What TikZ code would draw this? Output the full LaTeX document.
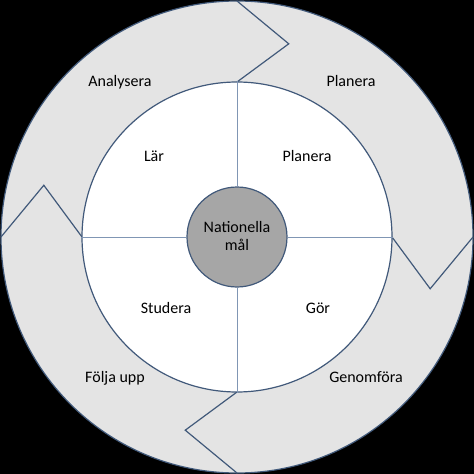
\documentclass[tikz,border=0pt]{standalone}
\usepackage{fontspec}
\setmainfont{Carlito}
\usetikzlibrary{positioning}
\usetikzlibrary{calc}

\definecolor{ringgray}{HTML}{E4E4E4}
\definecolor{edgeblue}{HTML}{41597A}
\definecolor{crossblue}{HTML}{8096B4}
\definecolor{goalgray}{HTML}{A6A6A6}

\begin{document}
\begin{tikzpicture}[x=1pt, y=1pt, every node/.style={font=\fontsize{16}{19}\selectfont, inner sep=0pt}]

        % Outer radius of the ring
        \def\rout{236}

        % Radius of the white circle
        \def\rin{155}

        % Radius of the chevron tips
        \def\rtip{200}

        % Black frame behind everything
        \fill[black] (-237,-237) rectangle (237,237);
        \useasboundingbox (-237,-237) rectangle (237,237);

        % Grey ring
        \fill[ringgray, draw=edgeblue, line width=1.2pt] (0,0) circle (\rout);

        % Chevrons cutting the ring into four parts
        \foreach \a in {90,0,-90,180} {
          \draw[edgeblue, line width=1.2pt, line join=miter]
            (\a:\rin) -- (\a-15:\rtip) -- (\a:\rout);
        }

        % White circle and the goal in the middle
        \node[circle, draw=edgeblue, fill=white, line width=1.2pt, minimum size=2*\rin pt] (inner) at (0,0) {};
        \node[circle, draw=edgeblue, fill=goalgray, line width=1.2pt, minimum size=100pt] (goal) at (0,0) {};

        % Cross lines from the goal to the white circle
        \foreach \s in {north, east, south, west} {
          \draw[crossblue, line width=0.8pt] (goal.\s) -- (inner.\s);
        }

        % Text of the goal
        \node[anchor=base] (goala) at (0,5) {Nationella};
        \node[anchor=base] (goalb) at (0,-13) {mål};

        % Inner labels
        \node[anchor=base] (lar) at (-83,76) {Lär};
        \node[anchor=base] (plan) at (70,76) {Planera};
        \node[anchor=base] (stud) at (-71,-76) {Studera};
        \node[anchor=base] (gor) at (81,-76) {Gör};

        % Outer labels
        \node[anchor=base] (anal) at (-117,150) {Analysera};
        \node[anchor=base] (planb) at (114,150) {Planera};
        \node[anchor=base] (folj) at (-122,-145) {Följa upp};
        \node[anchor=base] (genf) at (129,-145) {Genomföra};

      \end{tikzpicture}
\end{document}
